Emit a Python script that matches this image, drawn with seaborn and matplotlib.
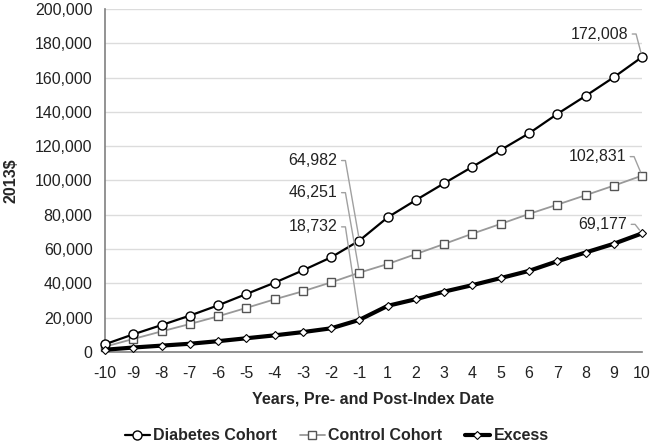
import matplotlib
matplotlib.use("Agg")
import matplotlib.pyplot as plt
import matplotlib.ticker as mticker
import seaborn as sns
import pandas as pd

# Données (2013$)
years = ['-10', '-9', '-8', '-7', '-6', '-5', '-4', '-3', '-2', '-1',
         '1', '2', '3', '4', '5', '6', '7', '8', '9', '10']
diabetes = [4500, 10300, 15700, 21200, 27200, 33800, 40400, 47600, 55200, 64982,
            78500, 88600, 98400, 108000, 117800, 127500, 138800, 149300, 160200, 172008]
control = [3100, 7600, 12000, 16300, 20800, 25700, 30700, 35400, 40600, 46251,
           51300, 57100, 63000, 69000, 74700, 80500, 85900, 91400, 97000, 102831]
excess = [1300, 2600, 3700, 4800, 6300, 8000, 9700, 11600, 13800, 18732,
          26900, 30800, 35200, 39000, 43100, 47300, 52900, 58000, 63100, 69177]

sns.set_style("white")
plt.rcParams['font.family'] = ['Liberation Sans', 'DejaVu Sans']

fig = plt.figure(figsize=(6.51, 4.46), dpi=100)
ax = fig.add_axes([0.1613, 0.2108, 0.825, 0.769])

df = pd.DataFrame({'year': years, 'Diabetes Cohort': diabetes,
                   'Control Cohort': control, 'Excess': excess})

sns.lineplot(data=df, x='year', y='Diabetes Cohort', sort=False, ax=ax,
             color='black', lw=1.6, marker='o', markersize=6.5,
             markerfacecolor='white', markeredgecolor='black', markeredgewidth=1,
             label='Diabetes Cohort', clip_on=False, zorder=4)
sns.lineplot(data=df, x='year', y='Control Cohort', sort=False, ax=ax,
             color='#999999', lw=1.3, marker='s', markersize=6,
             markerfacecolor='white', markeredgecolor='#555555', markeredgewidth=1,
             label='Control Cohort', clip_on=False, zorder=3)
sns.lineplot(data=df, x='year', y='Excess', sort=False, ax=ax,
             color='black', lw=3, marker='D', markersize=4.5,
             markerfacecolor='white', markeredgecolor='black', markeredgewidth=0.8,
             label='Excess', clip_on=False, zorder=5)

ax.set_xlim(0, len(years) - 1)
ax.set_ylim(0, 200000)
ax.yaxis.set_major_locator(mticker.MultipleLocator(20000))
ax.yaxis.set_major_formatter(mticker.FuncFormatter(lambda v, p: f'{v:,.0f}'))
ax.grid(axis='y', color='#dcdcdc', lw=1)
ax.set_axisbelow(True)

for s in ['top', 'right']:
    ax.spines[s].set_visible(False)
for s in ['left', 'bottom']:
    ax.spines[s].set_color('#808080')
    ax.spines[s].set_linewidth(1.2)
ax.tick_params(axis='both', direction='out', length=4, width=1, color='#808080',
               labelsize=11.5, pad=5, labelcolor='#222222')
ax.tick_params(axis='x', pad=6)

ax.set_xlabel('Years, Pre- and Post-Index Date', fontsize=11.5, fontweight='bold', labelpad=8)
ax.set_ylabel('2013$', fontsize=11.5, fontweight='bold')
ax.yaxis.set_label_coords(-0.162, 0.5)

# Étiquettes de données
labels = [
    (9, diabetes[9], (-22, 80)),
    (9, control[9], (-22, 80)),
    (9, excess[9], (-22, 93)),
    (19, diabetes[19], (-14, 23)),
    (19, control[19], (-16, 19)),
    (19, excess[19], (-15, 9)),
]
for xi, yv, off in labels:
    ax.annotate(f'{yv:,}', xy=(xi, yv), xytext=off, textcoords='offset pixels',
                ha='right', va='center', fontsize=11.5, color='#222222',
                arrowprops=dict(arrowstyle='-', color='#a0a0a0', lw=1,
                                relpos=(1, 0.5), patchA=None, shrinkA=3, shrinkB=3,
                                connectionstyle='arc,angleA=0,armA=8,angleB=0,armB=0,rad=0'),
                zorder=6)

leg = ax.legend(loc='lower center', bbox_to_anchor=(0.517, -0.012), bbox_transform=fig.transFigure,
                ncol=3, frameon=False, handlelength=1.6, columnspacing=1.4, handletextpad=0.2,
                prop={'size': 11.5, 'weight': 'bold'}, borderaxespad=0.1)

fig.savefig('out.png', dpi=100)
